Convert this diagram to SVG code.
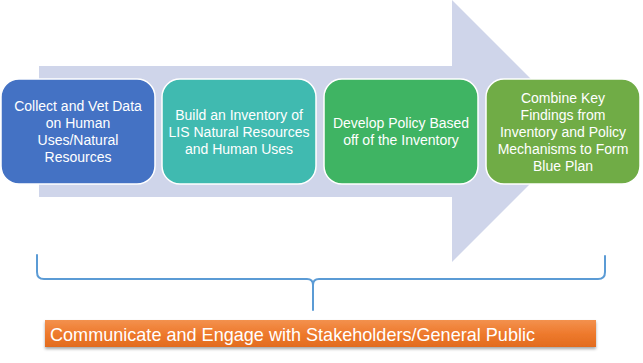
<svg xmlns="http://www.w3.org/2000/svg" width="643" height="363" viewBox="0 0 643 363">
<defs>
<linearGradient id="og" x1="0" y1="0" x2="0" y2="1">
<stop offset="0" stop-color="#F3914E"/>
<stop offset="0.5" stop-color="#EE7A2D"/>
<stop offset="1" stop-color="#E26B1E"/>
</linearGradient>
<filter id="sh" x="-5%" y="-20%" width="110%" height="160%">
<feDropShadow dx="0" dy="2" stdDeviation="1.5" flood-color="#000" flood-opacity="0.35"/>
</filter>
</defs>
<style>
.box{stroke:#FFFFFF;stroke-width:1.5}
.t{font-family:"Liberation Sans",Arial,sans-serif;font-size:14px;fill:#FFFFFF;text-anchor:middle}
.br{fill:none;stroke:#5B9BD5;stroke-width:2;stroke-linecap:round;stroke-linejoin:round}
</style>
<rect width="643" height="363" fill="#FFFFFF"/>
<g id="arrow">
<polygon points="39,66 452,66 452,0 583,131 452,262 452,197 39,197" fill="#CFD5EA"/>
</g>
<g id="node1">
<rect class="box" x="1" y="79" width="154" height="105" rx="18" fill="#4472C4"/>
<text class="t" x="78" y="111">Collect and Vet Data</text>
<text class="t" x="78" y="128">on Human</text>
<text class="t" x="78" y="145">Uses/Natural</text>
<text class="t" x="78" y="162">Resources</text>
</g>
<g id="node2">
<rect class="box" x="162" y="79" width="154" height="105" rx="18" fill="#40BAB0"/>
<text class="t" x="239" y="119.5">Build an Inventory of</text>
<text class="t" x="239" y="136.5">LIS Natural Resources</text>
<text class="t" x="239" y="153.5">and Human Uses</text>
</g>
<g id="node3">
<rect class="box" x="324" y="79" width="154" height="105" rx="18" fill="#3FB463"/>
<text class="t" x="401" y="128">Develop Policy Based</text>
<text class="t" x="401" y="145">off of the Inventory</text>
</g>
<g id="node4">
<rect class="box" x="486" y="79" width="154" height="105" rx="18" fill="#70AC46"/>
<text class="t" x="563" y="102.5">Combine Key</text>
<text class="t" x="563" y="119.5">Findings from</text>
<text class="t" x="563" y="136.5">Inventory and Policy</text>
<text class="t" x="563" y="153.5">Mechanisms to Form</text>
<text class="t" x="563" y="170.5">Blue Plan</text>
</g>
<g id="connectors">
<path class="br" d="M37,255 L37,272 Q37,279 44,279 L307,279 Q313,279 313,285 L313,310 M313,285 Q313,279 319,279 L598,279 Q605,279 605,272 L605,256"/>
</g>
<g id="node5">
<rect x="45" y="320" width="551" height="27" fill="url(#og)" filter="url(#sh)"/>
<text x="50" y="340.5" font-family="'Liberation Sans',Arial,sans-serif" font-size="19" fill="#FFFFFF" textLength="485" lengthAdjust="spacingAndGlyphs">Communicate and Engage with Stakeholders/General Public</text>
</g>
</svg>
